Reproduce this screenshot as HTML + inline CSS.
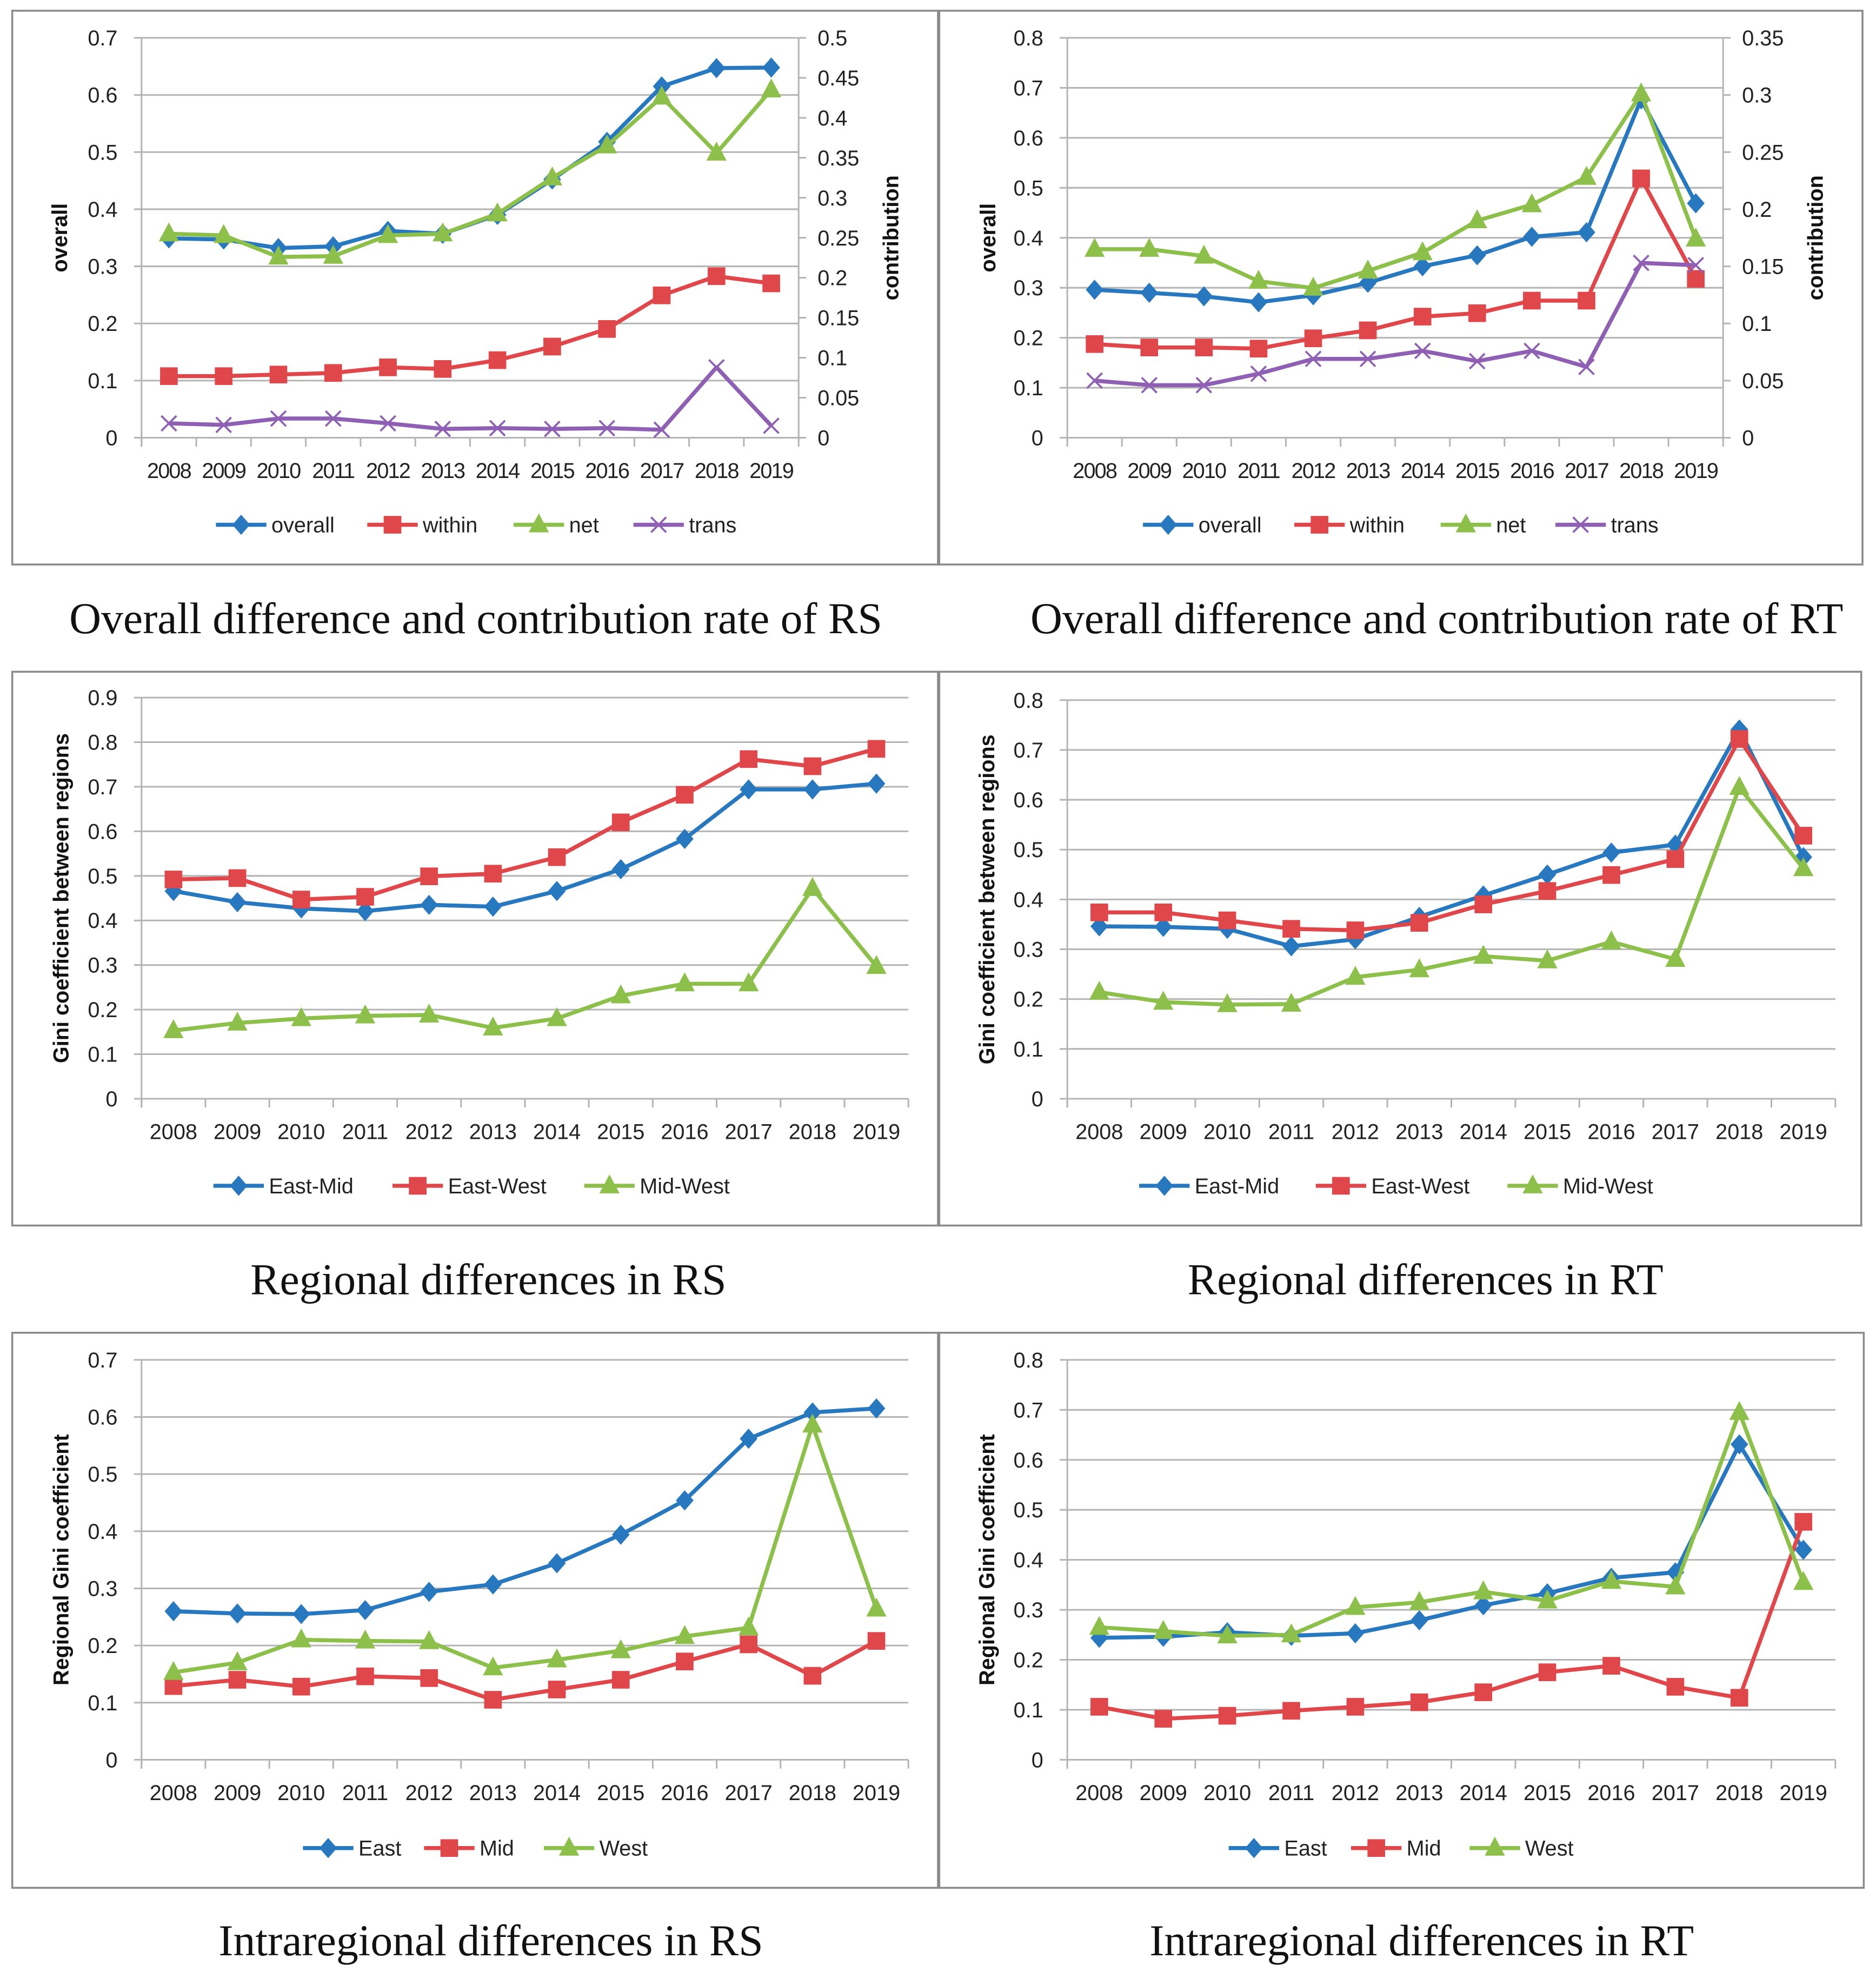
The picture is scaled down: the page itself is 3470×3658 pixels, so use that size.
<!DOCTYPE html>
<html><head><meta charset="utf-8">
<style>
html,body{margin:0;padding:0;background:#fff;}
svg{display:block;}
text{font-family:"Liberation Sans",sans-serif;}
.cap{font-family:"Liberation Serif",serif;font-size:35px;fill:#111;}
</style></head>
<body>
<svg id="root" width="3470" height="3658" viewBox="0 0 1487 1568" xmlns="http://www.w3.org/2000/svg">
<rect x="0" y="0" width="1487" height="1568" fill="#fff"/>
<rect x="9.5" y="8.5" width="734" height="439" fill="none" stroke="#8a8a8a" stroke-width="1.5"/>
<rect x="744.5" y="8.5" width="732" height="439" fill="none" stroke="#8a8a8a" stroke-width="1.5"/>
<rect x="9.5" y="532.5" width="734" height="439" fill="none" stroke="#8a8a8a" stroke-width="1.5"/>
<rect x="744.5" y="532.5" width="731" height="439" fill="none" stroke="#8a8a8a" stroke-width="1.5"/>
<rect x="9.5" y="1056.5" width="734" height="440" fill="none" stroke="#8a8a8a" stroke-width="1.5"/>
<rect x="744.5" y="1056.5" width="733" height="440" fill="none" stroke="#8a8a8a" stroke-width="1.5"/>
<text class="cap" x="377" y="502" text-anchor="middle">Overall difference and contribution rate of RS</text>
<text class="cap" x="1139" y="502" text-anchor="middle">Overall difference and contribution rate of RT</text>
<text class="cap" x="387" y="1026" text-anchor="middle">Regional differences in RS</text>
<text class="cap" x="1130" y="1026" text-anchor="middle">Regional differences in RT</text>
<text class="cap" x="389" y="1550" text-anchor="middle">Intraregional differences in RS</text>
<text class="cap" x="1127" y="1550" text-anchor="middle">Intraregional differences in RT</text>
</svg>
<script>
const years = ["2008","2009","2010","2011","2012","2013","2014","2015","2016","2017","2018","2019"];
// Panel 1: RS overall
const rsOverall = [0.349,0.347,0.332,0.335,0.362,0.357,0.39,0.452,0.518,0.615,0.647,0.648];
const rsWithin = [0.077,0.077,0.079,0.081,0.088,0.086,0.097,0.114,0.136,0.178,0.202,0.193];
const rsNet = [0.255,0.253,0.226,0.227,0.253,0.255,0.280,0.325,0.365,0.426,0.356,0.435];
const rsTrans = [0.018,0.016,0.024,0.024,0.018,0.011,0.012,0.011,0.012,0.010,0.088,0.015];
const leftTicks1 = ["0","0.1","0.2","0.3","0.4","0.5","0.6","0.7"];
const rightTicks1 = ["0","0.05","0.1","0.15","0.2","0.25","0.3","0.35","0.4","0.45","0.5"];
// Panel 2: RT overall
const rtOverall = [0.296,0.290,0.283,0.271,0.285,0.310,0.343,0.365,0.402,0.411,0.677,0.469];
const rtWithin = [0.082,0.079,0.079,0.078,0.087,0.094,0.106,0.109,0.120,0.120,0.227,0.139];
const rtNet = [0.165,0.165,0.159,0.137,0.131,0.146,0.162,0.190,0.204,0.228,0.301,0.174];
const rtTrans = [0.050,0.046,0.046,0.056,0.069,0.069,0.076,0.067,0.076,0.062,0.153,0.151];
const leftTicks2 = ["0","0.1","0.2","0.3","0.4","0.5","0.6","0.7","0.8"];
const rightTicks2 = ["0","0.05","0.1","0.15","0.2","0.25","0.3","0.35"];
// Panel 3: RS regional
const rsEastMid = [0.466,0.441,0.427,0.421,0.435,0.431,0.466,0.515,0.583,0.694,0.694,0.707];
const rsEastWest = [0.492,0.495,0.447,0.453,0.499,0.505,0.542,0.620,0.682,0.762,0.746,0.785];
const rsMidWest = [0.153,0.170,0.180,0.186,0.188,0.159,0.180,0.231,0.258,0.258,0.472,0.297];
const ticks3 = ["0","0.1","0.2","0.3","0.4","0.5","0.6","0.7","0.8","0.9"];
// Panel 4: RT regional
const rtEastMid = [0.346,0.345,0.341,0.306,0.320,0.365,0.408,0.450,0.494,0.510,0.741,0.485];
const rtEastWest = [0.374,0.374,0.358,0.341,0.338,0.353,0.390,0.417,0.449,0.481,0.722,0.528];
const rtMidWest = [0.214,0.194,0.189,0.190,0.244,0.259,0.286,0.277,0.315,0.280,0.625,0.462];
const ticks4 = ["0","0.1","0.2","0.3","0.4","0.5","0.6","0.7","0.8"];
// Panel 5: RS intra
const rsEast = [0.260,0.256,0.255,0.262,0.294,0.307,0.344,0.394,0.454,0.562,0.608,0.615];
const rsMid = [0.129,0.140,0.128,0.146,0.143,0.105,0.123,0.140,0.172,0.202,0.147,0.208];
const rsWest = [0.153,0.170,0.210,0.208,0.207,0.161,0.175,0.191,0.216,0.231,0.586,0.264];
const ticks5 = ["0","0.1","0.2","0.3","0.4","0.5","0.6","0.7"];
// Panel 6: RT intra
const rtEast = [0.244,0.246,0.255,0.248,0.253,0.279,0.309,0.333,0.364,0.375,0.631,0.420];
const rtMid = [0.106,0.082,0.088,0.098,0.106,0.115,0.135,0.175,0.188,0.146,0.124,0.476];
const rtWest = [0.265,0.257,0.248,0.250,0.305,0.315,0.336,0.318,0.357,0.346,0.695,0.355];
const ticks6 = ["0","0.1","0.2","0.3","0.4","0.5","0.6","0.7","0.8"];

const BLUE="#2878bf", RED="#e0474a", GREEN="#8dc04b", PURPLE="#8e5fb3";
const NS="http://www.w3.org/2000/svg";
const root=document.getElementById('root');
function mk(tag,attrs,parent){const e=document.createElementNS(NS,tag);for(const k in attrs)e.setAttribute(k,attrs[k]);(parent||root).appendChild(e);return e;}

function marker(g,type,x,y,color){
  let m;
  if(type==='diamond'){m=mk('polygon',{points:`${x},${y-8} ${x+7},${y} ${x},${y+8} ${x-7},${y}`,fill:color},g);}
  else if(type==='square'){m=mk('rect',{x:x-7,y:y-7,width:14,height:14,fill:color},g);}
  else if(type==='triangle'){m=mk('polygon',{points:`${x},${y-9} ${x+8},${y+6} ${x-8},${y+6}`,fill:color},g);}
  else {m=mk('path',{d:`M${x-6},${y-6}L${x+6},${y+6}M${x-6},${y+6}L${x+6},${y-6}`,stroke:color,'stroke-width':1.6,fill:'none'},g);}
  return m;
}

function chart(c){
  const g=mk('g',{});
  
  
  const L=c.x0,R=c.x1,T=c.y0,B=c.y1,n=years.length,slot=(R-L)/n;
  const xs=i=>L+slot*(i+0.5);
  const yL=v=>B-(v/c.lmax)*(B-T);
  const yR=v=>B-(v/c.rmax)*(B-T);
  c.lticks.forEach((t,i)=>{
    const v=parseFloat(t),y=yL(v);
    const gl=mk('line',{x1:L-6,x2:R,y1:y,y2:y,stroke:'#b4b4b4','stroke-width':1.3},g);
    
    
    const tx=mk('text',{x:L-19,y:y+6,'text-anchor':'end','font-size':17,fill:'#222'},g);
    tx.textContent=t;
    
    
  });
  mk('line',{x1:L,x2:L,y1:T,y2:B+7,stroke:'#b4b4b4','stroke-width':1.3},g);
  for(let i=0;i<=n;i++){mk('line',{x1:L+slot*i,x2:L+slot*i,y1:B,y2:B+7,stroke:'#b4b4b4','stroke-width':1.3},g);}
  if(c.rticks){
    mk('line',{x1:R,x2:R,y1:T,y2:B,stroke:'#b4b4b4','stroke-width':1.3},g);
    c.rticks.forEach(t=>{
      const y=yR(parseFloat(t));
      mk('line',{x1:R,x2:R+6,y1:y,y2:y,stroke:'#b4b4b4','stroke-width':1.3},g);
      const tx=mk('text',{x:R+15,y:y+6,'font-size':17,fill:'#222'},g);
      tx.textContent=t;
      
      
    });
    const rt=mk('text',{x:0,y:0,'font-size':17,'font-weight':'bold','text-anchor':'middle',transform:`translate(${R+79},${(T+B)/2}) rotate(-90)`,fill:'#111'},g);
    rt.textContent='contribution';
    
    
  }
  years.forEach((yr,i)=>{
    const tx=mk('text',{x:xs(i),y:B+32,'text-anchor':'middle','font-size':17,fill:'#222','letter-spacing':c.tight?-0.8:0},g);
    tx.textContent=yr;
    
    
  });
  const yt=mk('text',{x:0,y:0,'font-size':17,'font-weight':'bold','text-anchor':'middle',transform:`translate(${c.titleX},${(T+B)/2}) rotate(-90)`,fill:'#111'},g);
  yt.textContent=c.ytitle;
  
  
  c.series.forEach(s=>{
    const sg=mk('g',{},g);
    
    
    const yf=s.axis==='right'?yR:yL;
    const pts=s.data.map((v,i)=>xs(i)+','+yf(v)).join(' ');
    mk('polyline',{points:pts,fill:'none',stroke:s.color,'stroke-width':3.2,'stroke-linejoin':'round'},sg);
    s.data.forEach((v,i)=>{const m=marker(sg,s.marker,xs(i),yf(v),s.color);
      
      });
  });
  c.series.forEach((s,k)=>{
    const lx=c.legend[k],ly=c.legendY;
    const lg=mk('g',{},g);
    
    
    mk('line',{x1:lx,x2:lx+40,y1:ly,y2:ly,stroke:s.color,'stroke-width':3.2},lg);
    marker(lg,s.marker,lx+20,ly,s.color);
    const tx=mk('text',{x:lx+44,y:ly+6,'font-size':17,fill:'#222'},lg);
    tx.textContent=s.label;
  });
}

chart({name:'chart-rs-overall',x0:112,x1:633,y0:30,y1:347,lmax:0.7,rmax:0.5,lticks:leftTicks1,rticks:rightTicks1,tight:true,titleX:53,ytitle:'overall',legendY:416,legend:[171,291,407,502],
 series:[{label:'overall',data:rsOverall,color:BLUE,marker:'diamond',axis:'left'},{label:'within',data:rsWithin,color:RED,marker:'square',axis:'right'},{label:'net',data:rsNet,color:GREEN,marker:'triangle',axis:'right'},{label:'trans',data:rsTrans,color:PURPLE,marker:'x',axis:'right'}]});
chart({name:'chart-rt-overall',x0:846,x1:1366,y0:30,y1:347,lmax:0.8,rmax:0.35,lticks:leftTicks2,rticks:rightTicks2,tight:true,titleX:789,ytitle:'overall',legendY:416,legend:[906,1026,1142,1233],
 series:[{label:'overall',data:rtOverall,color:BLUE,marker:'diamond',axis:'left'},{label:'within',data:rtWithin,color:RED,marker:'square',axis:'right'},{label:'net',data:rtNet,color:GREEN,marker:'triangle',axis:'right'},{label:'trans',data:rtTrans,color:PURPLE,marker:'x',axis:'right'}]});
chart({name:'chart-rs-regional',x0:112,x1:720,y0:553,y1:871,lmax:0.9,lticks:ticks3,titleX:54,ytitle:'Gini coefficient between regions',legendY:940,legend:[169,311,463],
 series:[{label:'East-Mid',data:rsEastMid,color:BLUE,marker:'diamond'},{label:'East-West',data:rsEastWest,color:RED,marker:'square'},{label:'Mid-West',data:rsMidWest,color:GREEN,marker:'triangle'}]});
chart({name:'chart-rt-regional',x0:846,x1:1455,y0:555,y1:871,lmax:0.8,lticks:ticks4,titleX:788,ytitle:'Gini coefficient between regions',legendY:940,legend:[903,1043,1195],
 series:[{label:'East-Mid',data:rtEastMid,color:BLUE,marker:'diamond'},{label:'East-West',data:rtEastWest,color:RED,marker:'square'},{label:'Mid-West',data:rtMidWest,color:GREEN,marker:'triangle'}]});
chart({name:'chart-rs-intra',x0:112,x1:720,y0:1078,y1:1395,lmax:0.7,lticks:ticks5,titleX:54,ytitle:'Regional Gini coefficient',legendY:1465,legend:[240,336,431],
 series:[{label:'East',data:rsEast,color:BLUE,marker:'diamond'},{label:'Mid',data:rsMid,color:RED,marker:'square'},{label:'West',data:rsWest,color:GREEN,marker:'triangle'}]});
chart({name:'chart-rt-intra',x0:846,x1:1455,y0:1078,y1:1395,lmax:0.8,lticks:ticks6,titleX:788,ytitle:'Regional Gini coefficient',legendY:1465,legend:[974,1071,1165],
 series:[{label:'East',data:rtEast,color:BLUE,marker:'diamond'},{label:'Mid',data:rtMid,color:RED,marker:'square'},{label:'West',data:rtWest,color:GREEN,marker:'triangle'}]});
</script>
</body></html>
